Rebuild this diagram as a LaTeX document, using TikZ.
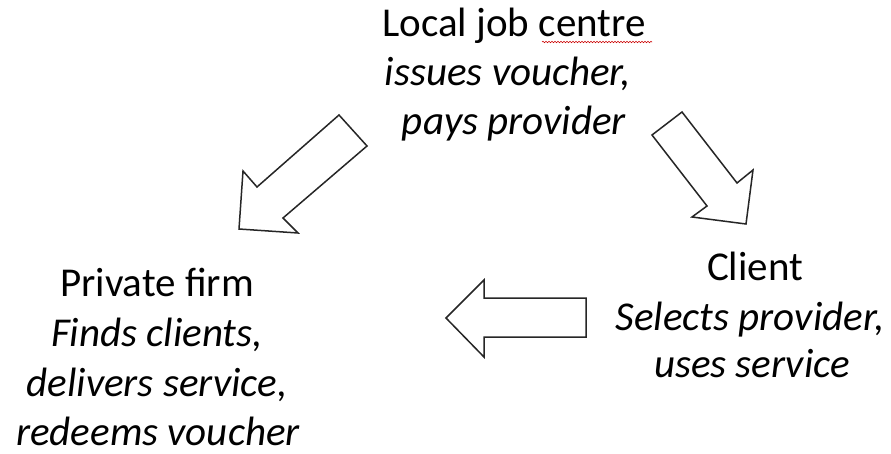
\documentclass[tikz,border=0pt]{standalone}
\usepackage{fontspec}
\setmainfont{Carlito}
\usetikzlibrary{decorations.pathmorphing}
\begin{document}
\begin{tikzpicture}[x=1pt,y=-1pt,
  lbl/.style={anchor=base, inner sep=0pt, font=\fontsize{41}{49}\selectfont},
  ilbl/.style={anchor=base, inner sep=0pt, font=\fontsize{41}{49}\selectfont\itshape},
  blockarrow/.style={draw=black!85, line width=1.5pt, fill=white, line join=miter}]
\useasboundingbox[fill=white] (0,0) rectangle (891,454);

% Local job centre
\node[lbl]  (t1) at (514,37)  {Local job centre};
\node[ilbl] (t2) at (508,86)  {issues voucher,};
\node[ilbl] (t3) at (514,135) {pays provider};
\draw[red!80!black, line width=0.6pt, decorate,
      decoration={snake, amplitude=0.7pt, segment length=3pt}]
      (542,42) -- (652,42);

% Private firm
\node[lbl]  (p1) at (157,296) {Private firm};
\node[ilbl] (p2) at (157,346) {Finds clients,};
\node[ilbl] (p3) at (157,396) {delivers service,};
\node[ilbl] (p4) at (158,445) {redeems voucher};

% Client
\node[lbl]  (c1) at (755,280) {Client};
\node[ilbl] (c2) at (750,330) {Selects provider,};
\node[ilbl] (c3) at (752,377) {uses service};

% block arrows
\draw[blockarrow] (339,115) -- (367,146) -- (283,218) -- (298,233)
  -- (239,229) -- (243,171) -- (257,187) -- cycle;
\draw[blockarrow] (652,135) -- (682,112) -- (737,183) -- (753,170)
  -- (746,224) -- (692,217) -- (707,206) -- cycle;
\draw[blockarrow] (446,318) -- (484,280) -- (484,298) -- (586,298)
  -- (586,337) -- (484,337) -- (484,357) -- cycle;
\end{tikzpicture}
\end{document}
